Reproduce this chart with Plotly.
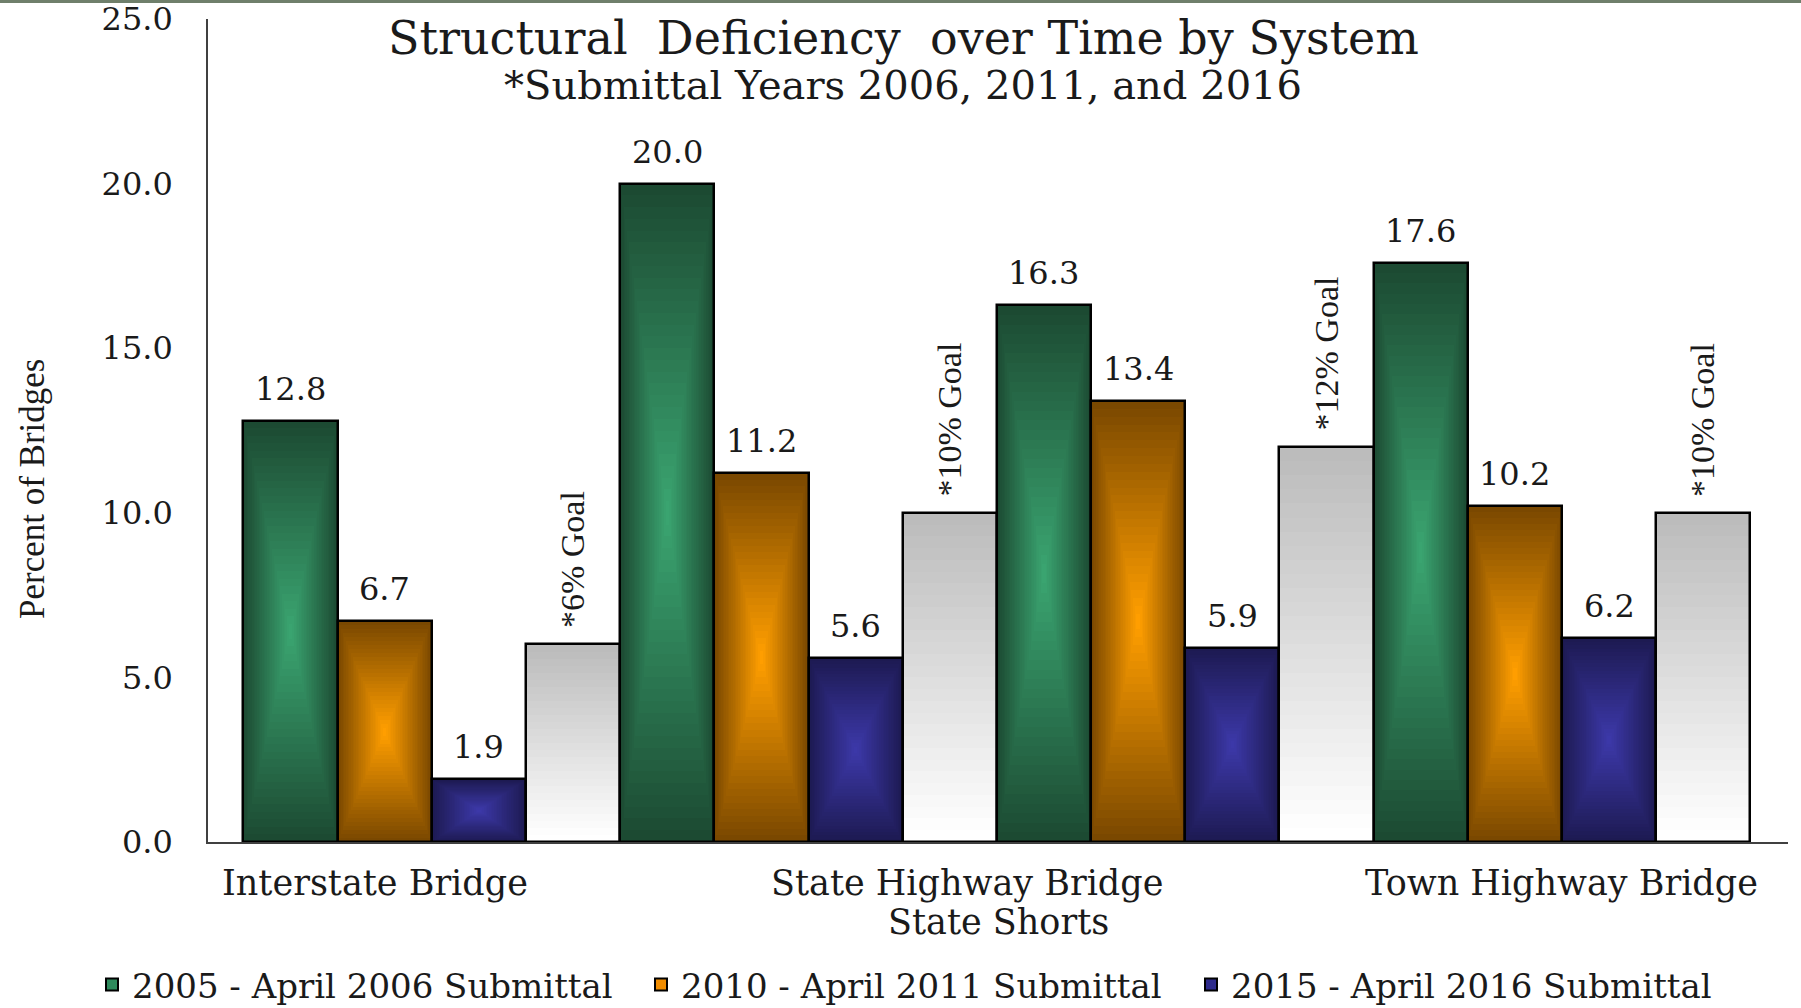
import plotly.graph_objects as go

# ---------------- data ----------------
categories = ["Interstate Bridge", "State Highway Bridge", "State Shorts", "Town Highway Bridge"]
series_names = ["2005 - April 2006 Submittal", "2010 - April 2011 Submittal", "2015 - April 2016 Submittal"]
sd_2006 = [12.8, 20.0, 16.3, 17.6]
sd_2011 = [6.7, 11.2, 13.4, 10.2]
sd_2016 = [1.9, 5.6, 5.9, 6.2]
goal = [6.0, 10.0, 12.0, 10.0]
goal_labels = ["*6% Goal", "*10% Goal", "*12% Goal", "*10% Goal"]
y_ticks = [0, 5, 10, 15, 20, 25]

# ---------------- style ----------------
W, H = 1801, 1008
ML, MR, MT, MB = 208, 13, 19, 166
PW, PH = W - ML - MR, H - MT - MB
BW = 0.25
offsets = [-0.5, -0.25, 0.0, 0.25]
NL = 28  # gradient layers
edge_cols = [(0x1C, 0x4A, 0x32), (0x7A, 0x48, 0x00), (0x1D, 0x1A, 0x52)]
center_cols = [(0x3A, 0xA4, 0x70), (0xFF, 0x9E, 0x00), (0x3C, 0x38, 0xA8)]
legend_cols = ["#2E8A5C", "#F08C00", "#2E2B8C"]
grey_top, grey_bot = (0xBC, 0xBC, 0xBC), (0xFF, 0xFF, 0xFF)
SERIF_W = "DejaVu Serif"
SERIF = "Liberation Serif"
TXT = "#1a1a1a"
# category label placement (data x, pixel y)
cat_pos = [(-0.15, 883), (1.42, 883), (1.505, 922), (3.0, 883)]
# legend entry left edges (px)
legend_left = [92, 641, 1191]
legend_ids = ["legend", "legend2", "legend3"]


def lerp(c1, c2, t):
    return "#%02x%02x%02x" % tuple(int(round(a + (b - a) * t)) for a, b in zip(c1, c2))


xg = list(range(len(categories)))
fig = go.Figure()

# legend entries
for s, name in enumerate(series_names):
    fig.add_trace(go.Bar(x=[None], y=[None], name=name, legend=legend_ids[s],
                         marker=dict(color=legend_cols[s], line=dict(color="black", width=2))))

series_vals = [sd_2006, sd_2011, sd_2016]
# rectangular "path" gradient bars
for s, vals in enumerate(series_vals):
    for k in range(NL):
        f = k / NL
        fig.add_trace(go.Bar(
            x=xg, y=[v * (1 - f) for v in vals], base=[v * f / 2 for v in vals],
            width=BW * (1 - f), offset=offsets[s] + BW * f / 2,
            marker=dict(color=lerp(edge_cols[s], center_cols[s], k / (NL - 1)), line=dict(width=0)),
            showlegend=False, hoverinfo="skip"))

# goal bars: vertical linear gradient
for k in range(NL):
    f = k / NL
    fig.add_trace(go.Bar(
        x=xg, y=[g * (1 - f) for g in goal], base=[0] * len(goal),
        width=BW, offset=offsets[3],
        marker=dict(color=lerp(grey_top, grey_bot, k / (NL - 1)), line=dict(width=0)),
        showlegend=False, hoverinfo="skip"))

# outlines
for s, vals in enumerate(series_vals + [goal]):
    fig.add_trace(go.Bar(x=xg, y=vals, width=BW, offset=offsets[s],
                         marker=dict(color="rgba(0,0,0,0)", line=dict(color="black", width=2.5)),
                         showlegend=False, hoverinfo="skip"))

ann = []
# value labels
for s, vals in enumerate(series_vals):
    for g, v in zip(xg, vals):
        ann.append(dict(x=g + offsets[s] + BW / 2, y=v, xref="x", yref="y", text=f"{v:.1f}",
                        showarrow=False, yanchor="middle", yshift=32,
                        font=dict(family=SERIF_W, size=32, color=TXT)))
# goal labels
for g, v, t in zip(xg, goal, goal_labels):
    ann.append(dict(x=g + offsets[3] + BW / 2, y=v, xref="x", yref="y", text=t,
                    showarrow=False, textangle=-90, yanchor="bottom", yshift=14,
                    font=dict(family=SERIF, size=34, color=TXT)))
# category labels
for (cx, py), name in zip(cat_pos, categories):
    ann.append(dict(x=cx, y=(H - MB - py) / PH, xref="x", yref="paper", text=name,
                    showarrow=False, yanchor="middle", xanchor="center",
                    font=dict(family=SERIF_W, size=35, color=TXT)))
# title
ann.append(dict(x=(903 - ML) / PW, y=(H - MB - 38) / PH, xref="paper", yref="paper",
                text="Structural&nbsp; Deficiency&nbsp; over Time by System", showarrow=False,
                yanchor="middle", font=dict(family=SERIF_W, size=46, color=TXT)))
ann.append(dict(x=(903 - ML) / PW, y=(H - MB - 85) / PH, xref="paper", yref="paper",
                text="*Submittal Years 2006, 2011, and 2016", showarrow=False,
                yanchor="middle", font=dict(family=SERIF_W, size=40, color=TXT)))
# y-axis title
ann.append(dict(x=(32 - ML) / PW, y=(H - MB - 489) / PH, xref="paper", yref="paper",
                text="Percent of Bridges", showarrow=False, textangle=-90,
                xanchor="center", yanchor="middle", font=dict(family=SERIF, size=35, color=TXT)))

legends = {}
for lid, lx in zip(legend_ids, legend_left):
    legends[lid] = dict(orientation="h", xref="container", yref="container",
                        x=lx / W, xanchor="left", y=(H - 985) / H, yanchor="middle",
                        font=dict(family=SERIF_W, size=34, color=TXT), itemwidth=30,
                        bgcolor="rgba(0,0,0,0)")

fig.update_layout(
    width=W, height=H, barmode="overlay", bargap=0,
    margin=dict(l=ML, r=MR, t=MT, b=MB, autoexpand=False),
    paper_bgcolor="white", plot_bgcolor="white",
    font=dict(family=SERIF_W, color=TXT),
    showlegend=True,
    annotations=ann,
    shapes=[dict(type="rect", xref="paper", yref="paper", x0=-ML / PW, x1=1 + MR / PW,
                 y0=1 + (MT - 3) / PH, y1=1 + MT / PH, fillcolor="#6F7F6B", line=dict(width=0),
                 layer="above")],
    **legends,
)
fig.update_xaxes(range=[-0.594, 3.6], showticklabels=False, showgrid=False, zeroline=False,
                 showline=True, linecolor="#404040", linewidth=1.5, ticks="")
fig.update_yaxes(range=[0, 25], tickvals=y_ticks, tickformat=".1f", showgrid=False, zeroline=False,
                 showline=True, linecolor="#404040", linewidth=1.5, ticks="",
                 ticklabelstandoff=27, tickfont=dict(family=SERIF_W, size=32, color=TXT))

fig.write_html("out.html", config={"displayModeBar": False},
               post_script="document.body.style.margin='0px';")
